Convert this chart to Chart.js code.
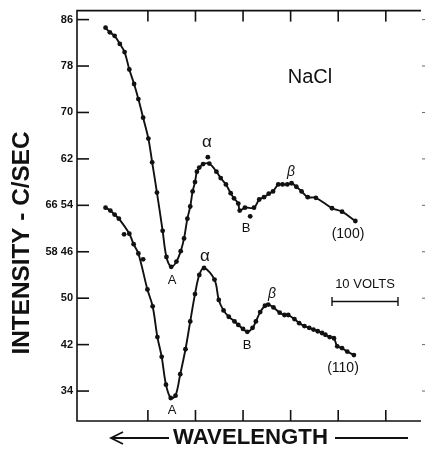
<!DOCTYPE html>
<html>
<head>
<meta charset="utf-8">
<script src="https://cdn.jsdelivr.net/npm/chart.js@4.4.1/dist/chart.umd.min.js"></script>
<style>
  html, body { margin: 0; padding: 0; background: #fff; }
  #wrap { width: 425px; height: 449px; }
</style>
</head>
<body>
<div id="wrap"><canvas id="c" width="425" height="449"></canvas></div>
<script>
// wavelength axis in tick units, intensity in c/sec
const xTicks = [1, 2, 3, 4, 5, 6];
const yTickValues = [22, 30, 38, 46, 54, 62, 70, 78, 86];
const yTickLabels = ['34', '42', '50', '58 46', '66 54', '62', '70', '78', '86'];

// (100) curve, left scale
const upperX = [0.11,0.20,0.30,0.41,0.51,0.61,0.71,0.80,0.90,1.01,1.09,1.19,1.31,1.39,1.49,1.60,1.69,1.76,1.83,1.89,1.94,1.99,2.03,2.08,2.16,2.29,2.44,2.53,2.64,2.74,2.81,2.90,2.93,3.04,3.23,3.34,3.44,3.54,3.63,3.74,3.83,3.93,4.02,4.12,4.23,4.36,4.53,4.87,5.08,5.36];
const upperY = [84.6,83.8,83.2,81.8,80.4,77.4,74.9,72.3,69.1,65.5,61.4,56.2,49.6,45.1,43.4,44.3,46.1,48.3,51.7,53.8,56.4,58.0,59.8,60.5,61.1,61.2,59.8,58.7,57.6,56.1,55.2,54.3,53.1,53.6,53.6,55.0,55.4,56.0,56.4,57.6,57.6,57.6,57.8,57.2,56.4,55.4,55.3,53.5,52.9,51.3];
const upperStrayX = [2.26, 3.15];
const upperStrayY = [62.3, 52.1];

// (110) curve, inner scale
const lowerX = [0.11,0.21,0.30,0.39,0.61,0.70,0.80,0.99,1.10,1.20,1.29,1.38,1.48,1.58,1.68,1.79,1.89,1.99,2.08,2.18,2.40,2.49,2.59,2.70,2.82,2.90,3.00,3.09,3.20,3.27,3.36,3.46,3.53,3.64,3.77,3.87,3.95,4.08,4.18,4.29,4.39,4.48,4.57,4.66,4.73,4.82,4.91,4.98,5.08,5.19,5.33];
const lowerY = [65.6,65.1,64.4,63.7,61.1,59.3,57.7,51.5,48.6,43.3,39.9,35.1,32.8,33.2,36.9,41.2,46.0,50.7,54.0,55.2,53.2,49.7,47.9,46.8,46.0,45.4,44.7,44.2,44.9,46.0,47.6,48.7,48.9,48.4,47.5,47.1,47.1,46.4,45.7,45.2,44.9,44.6,44.3,44.0,43.7,43.3,43.1,41.7,41.4,40.8,40.2];
const lowerStrayX = [0.50, 0.90];
const lowerStrayY = [61.0, 56.7];

const INK = '#111';
const FONT = '"Liberation Sans", Arial, sans-serif';

function pts(xs, ys) { return xs.map((x, i) => ({ x, y: ys[i] })); }

function curve(xs, ys, axis) {
  return {
    data: pts(xs, ys), yAxisID: axis,
    borderColor: INK, borderWidth: 1.9, backgroundColor: INK,
    pointRadius: 2.4, pointBorderWidth: 0, showLine: true,
    tension: 0.35
  };
}
function dots(xs, ys, axis) {
  return {
    data: pts(xs, ys), yAxisID: axis, showLine: false,
    backgroundColor: INK, pointRadius: 2.4, pointBorderWidth: 0
  };
}

function line(ctx, x1, y1, x2, y2) {
  ctx.beginPath(); ctx.moveTo(x1, y1); ctx.lineTo(x2, y2); ctx.stroke();
}
function fitText(ctx, txt, weight, width) {
  let s = 30;
  ctx.font = `${weight} ${s}px ${FONT}`;
  s = s * width / ctx.measureText(txt).width;
  ctx.font = `${weight} ${s}px ${FONT}`;
}

const decor = {
  id: 'decor',
  afterDraw(chart) {
    const { ctx, chartArea: a, scales: { x, y } } = chart;
    ctx.save();
    ctx.strokeStyle = INK; ctx.fillStyle = INK; ctx.lineWidth = 1.6;

    // frame: top, left, bottom
    ctx.beginPath();
    ctx.moveTo(a.right, a.top); ctx.lineTo(a.left, a.top);
    ctx.lineTo(a.left, a.bottom); ctx.lineTo(a.right, a.bottom);
    ctx.stroke();

    // inward ticks
    xTicks.forEach(v => {
      const px = x.getPixelForValue(v);
      line(ctx, px, a.top, px, a.top + 11);
      line(ctx, px, a.bottom, px, a.bottom - 11);
    });
    yTickValues.forEach(v => {
      const py = y.getPixelForValue(v);
      line(ctx, a.left, py, a.left + 12, py);
    });
    ctx.save();
    ctx.strokeStyle = '#666'; ctx.lineWidth = 1;
    yTickValues.forEach(v => {
      const py = y.getPixelForValue(v);
      line(ctx, a.right + 1, py, a.right + 4, py);
    });
    ctx.restore();

    // axis titles
    ctx.save();
    ctx.translate(22, 243);
    ctx.rotate(-Math.PI / 2);
    fitText(ctx, 'INTENSITY - C/SEC', 'bold', 223);
    ctx.textAlign = 'center'; ctx.textBaseline = 'middle';
    ctx.fillText('INTENSITY - C/SEC', 0, 0);
    ctx.restore();

    fitText(ctx, 'WAVELENGTH', 'bold', 155);
    ctx.textAlign = 'left'; ctx.textBaseline = 'middle';
    ctx.fillText('WAVELENGTH', 173, 438);
    ctx.lineWidth = 1.8;
    line(ctx, 111, 438, 169, 438);
    ctx.beginPath(); ctx.moveTo(123, 432); ctx.lineTo(111, 438); ctx.lineTo(123, 444); ctx.stroke();
    line(ctx, 335, 438, 408, 438);

    // labels
    const lab = (t, px, py, size, style) => {
      ctx.font = `${style || 'normal'} ${size}px ${FONT}`;
      ctx.textAlign = 'center'; ctx.textBaseline = 'middle';
      ctx.fillText(t, px, py);
    };
    lab('NaCl', 310, 77, 20);
    lab('α', 207, 142, 17);
    lab('β', 291, 172, 14, 'italic');
    lab('A', 172, 280, 13);
    lab('B', 246, 228, 13);
    lab('(100)', 348, 234, 14);
    lab('α', 205, 256, 17);
    lab('β', 272, 294, 14, 'italic');
    lab('B', 247, 345, 13);
    lab('A', 172, 410, 13);
    lab('(110)', 343, 368, 14);
    lab('10 VOLTS', 365, 284, 13);

    // 10 volt scale bar
    ctx.lineWidth = 1.4;
    line(ctx, 332, 301.5, 398, 301.5);
    line(ctx, 332, 297, 332, 306);
    line(ctx, 398, 297, 398, 306);
    ctx.restore();
  }
};

new Chart(document.getElementById('c'), {
  type: 'scatter',
  data: {
    datasets: [
      curve(upperX, upperY, 'y'),
      dots(upperStrayX, upperStrayY, 'y'),
      curve(lowerX, lowerY, 'y2'),
      dots(lowerStrayX, lowerStrayY, 'y2')
    ]
  },
  options: {
    responsive: false,
    animation: false,
    layout: { padding: { left: 0, top: 10, right: 4, bottom: 28 } },
    plugins: { legend: { display: false }, tooltip: { enabled: false } },
    scales: {
      x: { type: 'linear', min: -0.49, max: 6.74, display: false },
      y: {
        type: 'linear', position: 'left', min: 16.84, max: 87.55,
        afterBuildTicks: s => { s.ticks = yTickValues.map(v => ({ value: v })); },
        afterFit: s => { s.width = 77; },
        ticks: {
          autoSkip: false, padding: 4, color: INK,
          font: { family: FONT, size: 11, weight: 'bold' },
          callback: (v, i) => yTickLabels[i]
        },
        grid: { display: false, drawTicks: false },
        border: { display: false }
      },
      y2: { type: 'linear', min: 28.84, max: 99.55, display: false }
    }
  },
  plugins: [decor]
});
</script>
</body>
</html>
